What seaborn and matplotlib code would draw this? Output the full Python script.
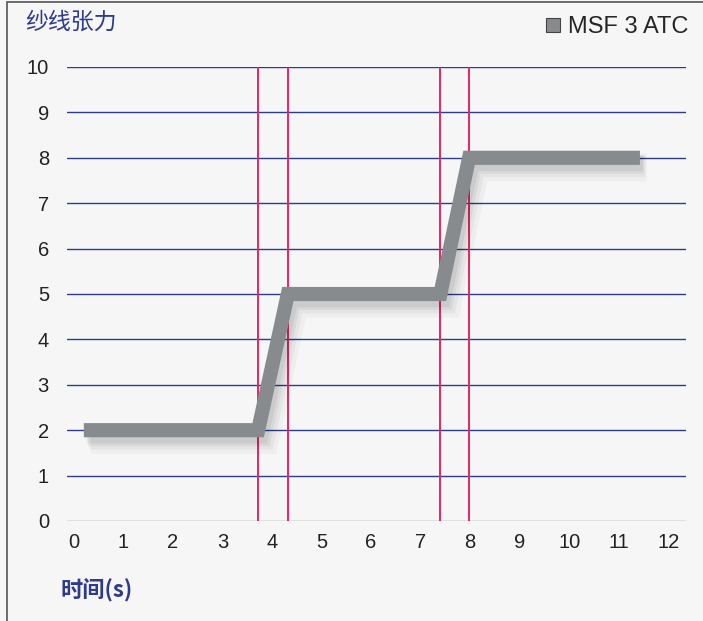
import numpy as np
import pandas as pd
import seaborn as sns
import matplotlib.pyplot as plt
import matplotlib.patheffects as pe
from matplotlib.lines import Line2D
from matplotlib.patches import Rectangle

# data
time_s = [0.2, 3.72, 4.32, 7.4, 7.98, 11.43]
tension = [2, 2, 5, 5, 8, 8]
marker_x = [3.72, 4.32, 7.4, 7.98]
x_ticks = list(range(0, 13))
y_ticks = list(range(0, 11))
series_name = "MSF 3 ATC"

navy = "#2e3a8c"
grey = "#888b8d"
red = "#e8245f"
bg = "#f6f6f6"

sns.set_style("white")
plt.rcParams['font.family'] = ['Liberation Sans', 'Noto Sans CJK SC', 'DejaVu Sans']

fig = plt.figure(figsize=(7.03, 6.21), dpi=100, facecolor=bg)
ax = fig.add_axes([67/703, 1 - 521/621, (686 - 67)/703, (521 - 67)/621])
ax.set_facecolor(bg)

# frame around the panel
fig.patches.append(Rectangle((7/703, -0.01), 1.0, 1 - 2/621 + 0.01, transform=fig.transFigure,
                             fill=False, edgecolor="#555555", linewidth=1.2))

# grid lines
for v in y_ticks:
    ax.axhline(v, color=navy if v > 0 else "#7d88a8", linewidth=1.0, zorder=1)

for xv in marker_x:
    ax.axvline(xv, color=red, linewidth=1.4, zorder=2)

df = pd.DataFrame({"time": time_s, "tension": tension})
# soft drop shadow
shadow = [pe.SimpleLineShadow(offset=(5, -7), shadow_color="k", alpha=0.03, linewidth=20),
          pe.SimpleLineShadow(offset=(4, -6), shadow_color="k", alpha=0.04, linewidth=16),
          pe.SimpleLineShadow(offset=(3, -5), shadow_color="k", alpha=0.05, linewidth=13),
          pe.SimpleLineShadow(offset=(2, -4), shadow_color="k", alpha=0.06, linewidth=11),
          pe.Normal()]
sns.lineplot(data=df, x="time", y="tension", ax=ax, color=grey, linewidth=10.2,
             solid_capstyle="butt", solid_joinstyle="miter", sort=False, estimator=None,
             path_effects=shadow, zorder=3)

ax.set_xlim(-0.14, 12.36)
ax.set_ylim(0, 10)
ax.set_xticks(x_ticks)
ax.set_yticks(y_ticks)
ax.tick_params(axis="both", length=0, labelsize=14.5, labelcolor="#222222")
ax.tick_params(axis="x", pad=9)
ax.tick_params(axis="y", pad=13)
ax.set_xlabel("")
ax.set_ylabel("")
sns.despine(ax=ax, left=True, bottom=True)

fig.text(25/703, 1 - 22/621, "纱线张力", color=navy, fontsize=16.5,
         family=['Noto Sans CJK SC'], va="center", ha="left")
fig.text(61/703, 1 - 591/621, "时间(s)", color=navy, fontsize=16, fontweight="bold",
         family=['Noto Sans CJK SC'], va="center", ha="left")

handle = Line2D([], [], marker="s", linestyle="none", markersize=10.5,
                markerfacecolor=grey, markeredgecolor="#444444", markeredgewidth=0.8)
fig.legend([handle], [series_name], loc="upper right", bbox_to_anchor=(703/703, 1 - 2/621),
           frameon=False, fontsize=17, handletextpad=0.25, borderaxespad=0.2,
           handlelength=0.8)

fig.savefig("out.png", dpi=100, facecolor=bg)
